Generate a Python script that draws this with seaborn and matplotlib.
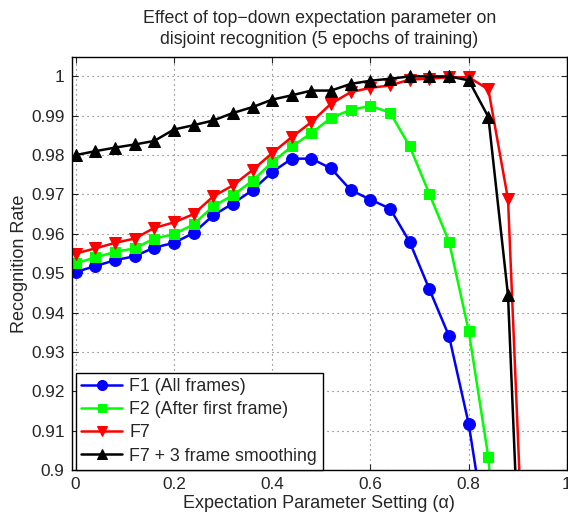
import matplotlib
matplotlib.use("Agg")
import matplotlib.pyplot as plt
import seaborn as sns
import numpy as np
import pandas as pd
from matplotlib.ticker import FuncFormatter

# alpha settings (step 0.04); series stop once they fall off the chart
alpha = [0.0, 0.04, 0.08, 0.12, 0.16, 0.20, 0.24, 0.28, 0.32, 0.36, 0.40, 0.44,
         0.48, 0.52, 0.56, 0.60, 0.64, 0.68, 0.72, 0.76, 0.80, 0.84, 0.88, 0.92]

f1_all = [0.9503, 0.9518, 0.9533, 0.9543, 0.9565, 0.9577, 0.9602, 0.9647, 0.9677,
          0.9711, 0.9757, 0.9791, 0.9791, 0.9766, 0.9711, 0.9687, 0.9664, 0.9579,
          0.9459, 0.9340, 0.9117, 0.880]
f2_after = [0.9525, 0.9540, 0.9554, 0.9563, 0.9588, 0.9599, 0.9624, 0.9670, 0.9698,
            0.9735, 0.9782, 0.9822, 0.9856, 0.9895, 0.9915, 0.9925, 0.9908, 0.9822,
            0.9701, 0.9580, 0.9353, 0.9032, 0.840]
f7 = [0.9550, 0.9563, 0.9577, 0.9588, 0.9615, 0.9629, 0.9650, 0.9695, 0.9723,
      0.9762, 0.9805, 0.9846, 0.9884, 0.9931, 0.9960, 0.9971, 0.9977, 0.9992,
      0.9994, 0.9998, 0.9998, 0.9967, 0.9688, 0.849]
f7_smooth = [0.9800, 0.9810, 0.9819, 0.9827, 0.9836, 0.9865, 0.9876, 0.9888, 0.9907,
             0.9922, 0.9941, 0.9952, 0.9964, 0.9964, 0.9981, 0.9989, 0.9994, 1.0000,
             1.0000, 1.0000, 0.9990, 0.9897, 0.9444, 0.824]

series = [
    ('F1 (All frames)', f1_all, 'blue', 'o', 8.5),
    ('F2 (After first frame)', f2_after, '#00ff00', 's', 7),
    ('F7', f7, 'red', 'v', 9),
    ('F7 + 3 frame smoothing', f7_smooth, 'black', '^', 9),
]

sns.set_style('ticks')
plt.rcParams['font.family'] = ['Liberation Sans', 'DejaVu Sans']
plt.rcParams['font.size'] = 12.8

fig = plt.figure(figsize=(5.68, 5.17), dpi=100)
ax = fig.add_axes([0.1262, 0.0909, 0.8720, 0.7994])

for name, vals, col, mk, ms in series:
    df = pd.DataFrame({'alpha': alpha[:len(vals)], 'rate': vals})
    sns.lineplot(data=df, x='alpha', y='rate', ax=ax, color=col, marker=mk,
                 markersize=ms, markeredgecolor=col, linewidth=1.8, label=name)

ax.set_xlim(-0.008, 1.0)
ax.set_ylim(0.9, 1.005)
ax.set_xticks([0, 0.2, 0.4, 0.6, 0.8, 1.0])
ax.set_yticks(np.round(np.arange(0.9, 1.0001, 0.01), 2))
fmt = FuncFormatter(lambda v, p: '%g' % round(v, 3))
ax.xaxis.set_major_formatter(fmt)
ax.yaxis.set_major_formatter(fmt)
ax.tick_params(direction='in', top=True, right=True, length=4, width=0.8,
               labelsize=12.4, pad=5)
ax.grid(True, linestyle=(0, (1, 3.5)), color='0.4', linewidth=0.8)
for s in ax.spines.values():
    s.set_linewidth(1.0)
    s.set_color('black')

ax.set_xlabel('Expectation Parameter Setting (α)', fontsize=13, labelpad=2)
ax.set_ylabel('Recognition Rate', fontsize=13, labelpad=2)
ax.set_title('Effect of top\u2212down expectation parameter on\n'
             'disjoint recognition (5 epochs of training)', fontsize=12.8, pad=9,
             linespacing=1.3)

leg = ax.legend(loc='lower left', bbox_to_anchor=(0.009, 0.0), borderaxespad=0,
                frameon=True, fancybox=False, edgecolor='black', framealpha=1,
                handlelength=2.3, handletextpad=0.4, labelspacing=0.35,
                borderpad=0.3, markerscale=0.85, fontsize=12.8)
leg.get_frame().set_linewidth(1.0)

fig.savefig('out.png', dpi=100)
